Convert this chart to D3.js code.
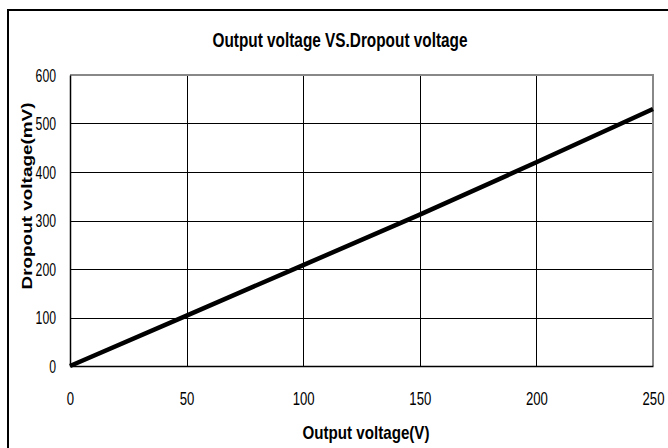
<!DOCTYPE html>
<html>
<head>
<meta charset="utf-8">
<script src="https://cdnjs.cloudflare.com/ajax/libs/d3/7.8.5/d3.min.js"></script>
<style>
  body { margin: 0; background: #fff; }
  text { font-family: "Liberation Sans", Arial, sans-serif; }
</style>
</head>
<body>
<div id="chart"></div>
<script>
// output voltage (V) and dropout voltage (mV)
var outV = [0, 50, 100, 150, 200, 250];
var dropV = [0, 104, 208, 312, 420, 530];
var xTicks = [0, 50, 100, 150, 200, 250];
var yTicks = [0, 100, 200, 300, 400, 500, 600];

var W = 668, H = 448;
var margin = {top: 75, right: 15, bottom: 82, left: 70};
var w = W - margin.left - margin.right;
var h = H - margin.top - margin.bottom;

// the original uses a condensed face, so squeeze the text with textLength
function narrow(sel, perChar) {
  sel.attr("lengthAdjust", "spacingAndGlyphs")
    .attr("textLength", function() { return this.textContent.length * perChar; });
}

var svg = d3.select("#chart").append("svg")
  .attr("width", W)
  .attr("height", H);

// frame round the whole chart (right and bottom sides run off the picture)
svg.append("rect")
  .attr("x", 8).attr("y", 10)
  .attr("width", 700).attr("height", 500)
  .attr("fill", "none")
  .attr("stroke", "#000")
  .attr("stroke-width", 2);

svg.append("text")
  .attr("x", 340).attr("y", 47)
  .attr("text-anchor", "middle")
  .attr("font-weight", "bold")
  .attr("font-size", 20)
  .attr("textLength", 255)
  .attr("lengthAdjust", "spacingAndGlyphs")
  .text("Output voltage VS.Dropout voltage");

var g = svg.append("g")
  .attr("transform", "translate(" + margin.left + "," + margin.top + ")");

var x = d3.scaleLinear().domain([0, 250]).range([0, w]);
var y = d3.scaleLinear().domain([0, 600]).range([h, 0]);

// grid
g.selectAll(".hgrid").data(yTicks.slice(1, -1)).enter().append("line")
  .attr("x1", 0).attr("x2", w)
  .attr("y1", function(d) { return Math.round(y(d)) + 0.5; })
  .attr("y2", function(d) { return Math.round(y(d)) + 0.5; })
  .attr("stroke", "#000");
g.selectAll(".vgrid").data(xTicks.slice(1, -1)).enter().append("line")
  .attr("y1", 0).attr("y2", h)
  .attr("x1", function(d) { return Math.round(x(d)) + 0.5; })
  .attr("x2", function(d) { return Math.round(x(d)) + 0.5; })
  .attr("stroke", "#000");

// top and right edges are grey
g.append("path")
  .attr("d", "M0,0H" + w + "V" + h)
  .attr("fill", "none")
  .attr("stroke", "#888")
  .attr("stroke-width", 2);

var xAxis = d3.axisBottom(x).tickValues(xTicks).tickSize(0).tickPadding(26);
var yAxis = d3.axisLeft(y).tickValues(yTicks).tickSize(0).tickPadding(14);

g.append("g")
  .attr("transform", "translate(0," + h + ")")
  .call(xAxis)
  .call(function(a) {
    a.select(".domain").attr("stroke", "#000").attr("stroke-width", 1.5);
    a.selectAll("text")
      .attr("font-size", 19).attr("fill", "#000")
      .call(narrow, 7.3);
  });

g.append("g")
  .call(yAxis)
  .call(function(a) {
    a.select(".domain").attr("stroke", "#000").attr("stroke-width", 1.5);
    a.selectAll("text")
      .attr("font-size", 19).attr("fill", "#000")
      .call(narrow, 6.8);
  });

// the series
var pts = outV.map(function(v, i) { return [v, dropV[i]]; });
g.append("path")
  .datum(pts)
  .attr("d", d3.line()
    .x(function(d) { return x(d[0]); })
    .y(function(d) { return y(d[1]); }))
  .attr("fill", "none")
  .attr("stroke", "#000")
  .attr("stroke-width", 4.5);

svg.append("text")
  .attr("x", 366).attr("y", 439)
  .attr("text-anchor", "middle")
  .attr("font-weight", "bold")
  .attr("font-size", 19)
  .attr("textLength", 127)
  .attr("lengthAdjust", "spacingAndGlyphs")
  .text("Output voltage(V)");

svg.append("text")
  .attr("transform", "translate(32,196) rotate(-90)")
  .attr("text-anchor", "middle")
  .attr("font-weight", "bold")
  .attr("font-size", 15)
  .attr("textLength", 187)
  .attr("lengthAdjust", "spacingAndGlyphs")
  .text("Dropout voltage(mV)");
</script>
</body>
</html>
